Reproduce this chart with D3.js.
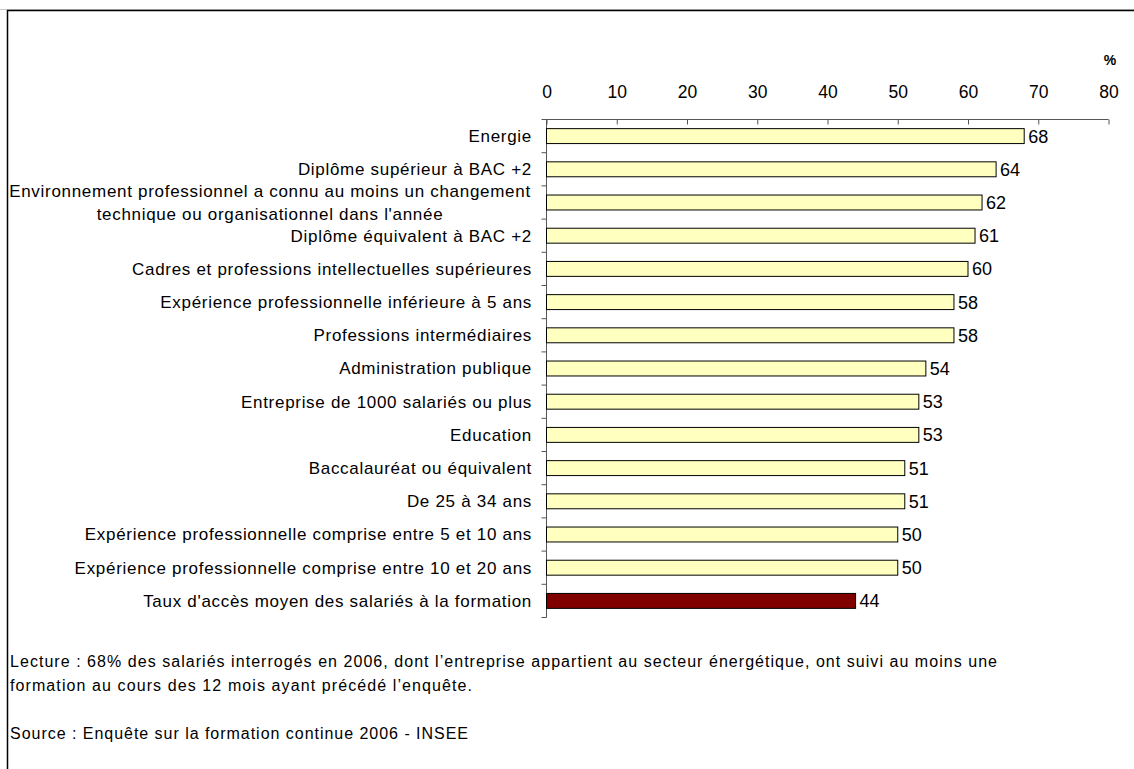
<!DOCTYPE html>
<html>
<head>
<meta charset="utf-8">
<script src="https://cdn.jsdelivr.net/npm/d3@7"></script>
<style>
  html, body { margin: 0; padding: 0; background: #fff; }
  svg { display: block; font-family: "Liberation Sans", Arial, sans-serif; }
</style>
</head>
<body>
<svg id="chart" width="1134" height="769"></svg>
<script>
// Access rate to continuing training, by salaried-worker group (%)
const categories = [
  "Energie",
  "Diplôme supérieur à BAC +2",
  "Environnement professionnel a connu au moins un changement\ntechnique ou organisationnel dans l'année",
  "Diplôme équivalent à BAC +2",
  "Cadres et professions intellectuelles supérieures",
  "Expérience professionnelle inférieure à 5 ans",
  "Professions intermédiaires",
  "Administration publique",
  "Entreprise de 1000 salariés ou plus",
  "Education",
  "Baccalauréat ou équivalent",
  "De 25 à 34 ans",
  "Expérience professionnelle comprise entre 5 et 10 ans",
  "Expérience professionnelle comprise entre 10 et 20 ans",
  "Taux d'accès moyen des salariés à la formation"
];
const values = [68, 64, 62, 61, 60, 58, 58, 54, 53, 53, 51, 51, 50, 50, 44];
const xTicks = [0, 10, 20, 30, 40, 50, 60, 70, 80];
const footnotes = [
  "Lecture : 68% des salariés interrogés en 2006, dont l\u2019entreprise appartient au secteur énergétique, ont suivi au moins une",
  "formation au cours des 12 mois ayant précédé l\u2019enquête.",
  "Source : Enquête sur la formation continue 2006 - INSEE"
];
const footnoteWidths = [987, 462, 458];
const footnoteY = [667, 691, 739];

const svg = d3.select("#chart");

// Frame
svg.append("line").attr("x1", 0).attr("x2", 1134).attr("y1", 9.5).attr("y2", 9.5)
  .attr("stroke", "#c8c8c8").attr("stroke-width", 1);
svg.append("path").attr("d", "M7.5,769 V10.5 H1134")
  .attr("fill", "none").attr("stroke", "#000").attr("stroke-width", 1.5);

const plotLeft = 546.5, plotRight = 1108.5, plotTop = 119.5, plotBottom = 617.5;

const x = d3.scaleLinear().domain([0, 80]).range([plotLeft, plotRight]);
const y = d3.scaleBand().domain(categories).range([plotTop, plotBottom]).paddingInner(0.55).paddingOuter(0.275);
const yb = d3.scaleBand().domain(categories).range([plotTop, plotBottom]);

// Top axis
const xAxis = svg.append("g").attr("transform", `translate(0,${plotTop})`)
  .call(d3.axisTop(x).tickValues(xTicks).tickSize(5).tickPadding(17).tickFormat(d3.format("d")));
xAxis.select(".domain").attr("stroke", "#555").attr("d", `M${plotLeft},0H${plotRight}`);
xAxis.selectAll(".tick line").attr("stroke", "#555").attr("y2", 5);
xAxis.selectAll(".tick text").attr("font-size", 17.5).attr("fill", "#000")
  .attr("font-family", "Liberation Sans, Arial, sans-serif");

svg.append("text").attr("x", 1110).attr("y", 65).attr("text-anchor", "middle")
  .attr("font-size", 14).attr("font-weight", "bold").text("%");

// Category axis with boundary ticks
const yg = svg.append("g");
yg.append("line").attr("x1", plotLeft).attr("x2", plotLeft).attr("y1", plotTop).attr("y2", plotBottom)
  .attr("stroke", "#555");
const bounds = categories.map(c => yb(c)).concat([plotBottom]);
yg.selectAll("line.tk").data(bounds).join("line").attr("class", "tk")
  .attr("x1", plotLeft - 5).attr("x2", plotLeft).attr("y1", d => d).attr("y2", d => d)
  .attr("stroke", "#555");

// Category labels
const labels = svg.append("g").attr("font-size", 17).attr("letter-spacing", 0.7).attr("fill", "#000");
categories.forEach((c, i) => {
  const lines = c.split("\n");
  const cy = y(c) + y.bandwidth() / 2;
  if (lines.length === 1) {
    labels.append("text").attr("x", 532).attr("y", cy).attr("dy", "0.35em")
      .attr("text-anchor", "end").text(c);
  } else {
    lines.forEach((ln, j) => {
      labels.append("text").attr("x", 270).attr("y", cy + (j - 0.5) * 23).attr("dy", "0.35em")
        .attr("text-anchor", "middle").text(ln);
    });
  }
});

// Bars
svg.append("g").selectAll("rect").data(values).join("rect")
  .attr("x", x(0))
  .attr("y", (d, i) => y(categories[i]))
  .attr("width", d => x(d) - x(0))
  .attr("height", y.bandwidth())
  .attr("fill", (d, i) => i === values.length - 1 ? "#800000" : "#ffffc0")
  .attr("stroke", "#000").attr("stroke-width", 1);

// Value labels
svg.append("g").selectAll("text").data(values).join("text")
  .attr("x", d => x(d) + 4)
  .attr("y", (d, i) => y(categories[i]) + y.bandwidth() / 2)
  .attr("dy", "0.36em")
  .attr("font-size", 18).attr("fill", "#000")
  .text(d => d);

// Footnotes
svg.append("g").attr("font-size", 16)
  .selectAll("text").data(footnotes).join("text")
  .attr("x", 10).attr("y", (d, i) => footnoteY[i])
  .attr("textLength", (d, i) => footnoteWidths[i])
  .attr("lengthAdjust", "spacing")
  .text(d => d);
</script>
</body>
</html>
